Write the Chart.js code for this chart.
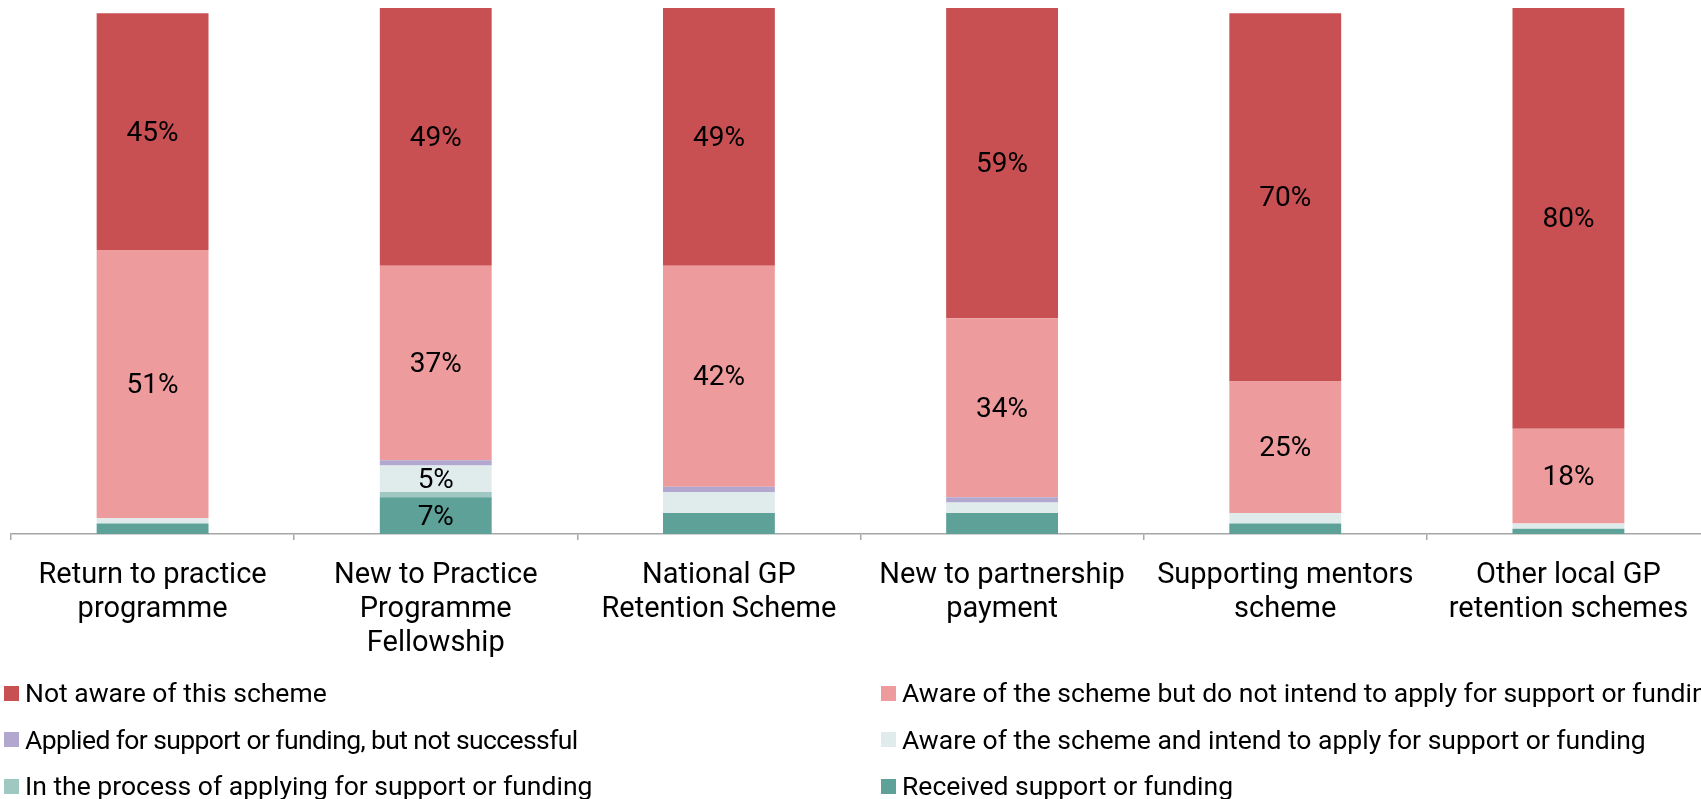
<!DOCTYPE html>
<html>
<head>
<meta charset="utf-8">
<script src="https://cdn.jsdelivr.net/npm/chart.js@4"></script>
<style>
  html, body { margin: 0; padding: 0; background: #fff; overflow: hidden; }
  #wrap { position: relative; width: 1710px; height: 799px; }
  #legend { position: absolute; left: 0; top: 670px; width: 1710px; font-family: Roboto, sans-serif; font-size: 26.5px; color: #000; }
  .item { position: absolute; white-space: nowrap; height: 46px; line-height: 46px; }
  .box { display: inline-block; width: 15px; height: 15px; margin-right: 6px; vertical-align: middle; position: relative; top: -2px; }
  .narrow { letter-spacing: -0.6px; }
</style>
</head>
<body>
<div id="wrap">
  <canvas id="myChart" width="1710" height="799"></canvas>
  <div id="legend"></div>
</div>
<script>
// categories (multi-line labels)
const categories = [
  ['Return to practice', 'programme'],
  ['New to Practice', 'Programme', 'Fellowship'],
  ['National GP', 'Retention Scheme'],
  ['New to partnership', 'payment'],
  ['Supporting mentors', 'scheme'],
  ['Other local GP', 'retention schemes'],
]

// series values (%), stacked bottom to top
const received = [2, 7, 4, 4, 2, 1]
const inProcess = [0, 1, 0, 0, 0, 0]
const awareIntend = [1, 5, 4, 2, 2, 1]
const appliedNotSuccessful = [0, 1, 1, 1, 0, 0]
const awareNoIntend = [51, 37, 42, 34, 25, 18]
const notAware = [45, 49, 49, 59, 70, 80]

const seriesNames = [
  'Received support or funding',
  'In the process of applying for support or funding',
  'Aware of the scheme and intend to apply for support or funding',
  'Applied for support or funding, but not successful',
  'Aware of the scheme but do not intend to apply for support or funding',
  'Not aware of this scheme',
]
const seriesValues = [received, inProcess, awareIntend, appliedNotSuccessful, awareNoIntend, notAware]
const seriesColors = ['#5da199', '#9fc8c3', '#e0ecec', '#b2a7cf', '#ed9b9c', '#c84f52']

const datasets = seriesNames.map((name, i) => ({
  label: name,
  data: seriesValues[i],
  backgroundColor: seriesColors[i],
  borderWidth: 0,
  barPercentage: 0.395,
  categoryPercentage: 1,
}))

// draw % labels in the middle of segments of 5% or more
const segmentLabels = {
  id: 'segmentLabels',
  afterDatasetsDraw(chart) {
    const ctx = chart.ctx
    ctx.save()
    ctx.font = '28px Roboto'
    ctx.fillStyle = '#000'
    ctx.textAlign = 'center'
    ctx.textBaseline = 'middle'
    chart.data.datasets.forEach((ds, i) => {
      chart.getDatasetMeta(i).data.forEach((bar, j) => {
        const v = ds.data[j]
        if (v >= 5) ctx.fillText(v + '%', bar.x, (bar.y + bar.base) / 2 + 2)
      })
    })
    ctx.restore()
  },
}

const ctx = document.getElementById('myChart').getContext('2d')
const myChart = new Chart(ctx, {
  type: 'bar',
  data: { labels: categories, datasets: datasets },
  options: {
    responsive: false,
    animation: false,
    layout: { padding: { left: 11, top: 8, right: 0, bottom: 0 } },
    plugins: { legend: { display: false }, tooltip: { enabled: false } },
    scales: {
      x: {
        stacked: true,
        grid: { drawOnChartArea: false, drawTicks: true, tickLength: 6, color: '#a6a6a6', lineWidth: 1.5, offset: true },
        border: { display: true, color: '#a6a6a6', width: 1.5 },
        ticks: { color: '#000', font: { family: 'Roboto', size: 29, lineHeight: 1.17 }, padding: 19, maxRotation: 0, autoSkip: false },
        afterFit(scale) { scale.height = 799 - 534 },
      },
      y: { stacked: true, display: false, min: 0, max: 100 },
    },
  },
  plugins: [segmentLabels],
})

// legend: two columns, top series first
const legend = document.getElementById('legend')
const order = myChart.data.datasets.slice().reverse()
order.forEach((ds, k) => {
  const item = document.createElement('div')
  item.className = 'item'
  item.style.left = (k % 2 === 0 ? 4 : 881) + 'px'
  item.style.top = Math.floor(k / 2) * 46.5 + 'px'
  const box = document.createElement('span')
  box.className = 'box'
  box.style.background = ds.backgroundColor
  item.appendChild(box)
  const txt = document.createElement('span')
  txt.textContent = ds.label
  if (ds.label.startsWith('Applied')) txt.className = 'narrow'
  item.appendChild(txt)
  legend.appendChild(item)
})
</script>
</body>
</html>
